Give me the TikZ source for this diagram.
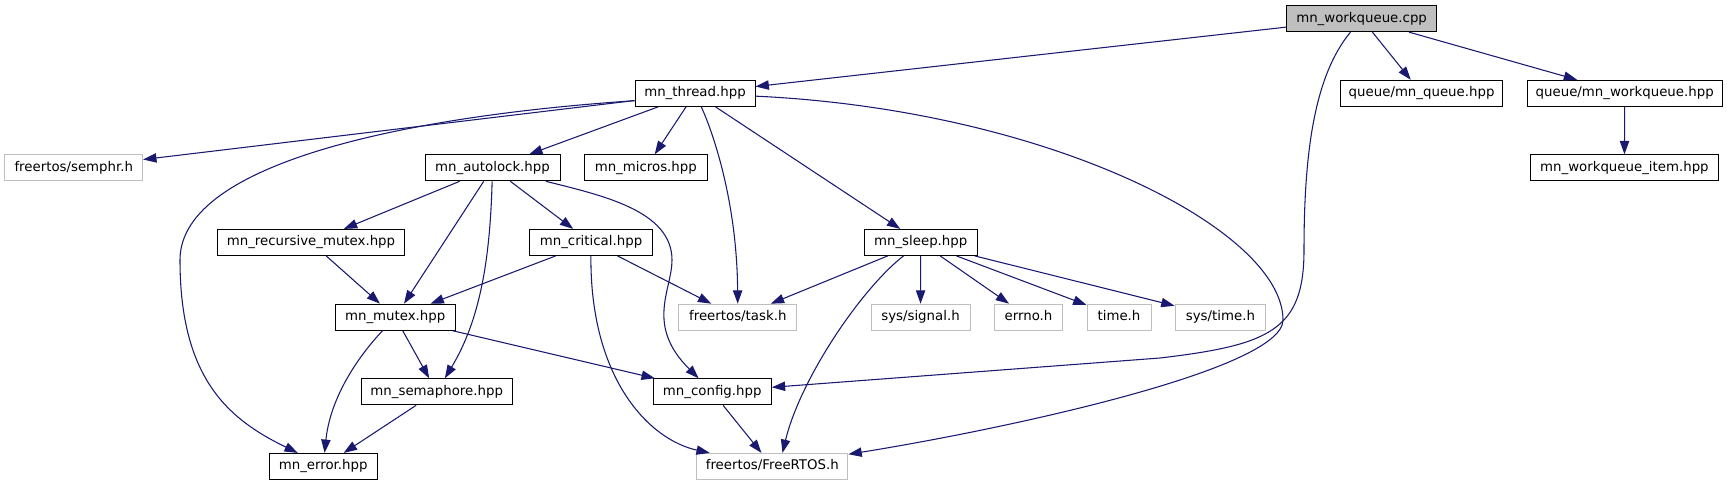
\documentclass[tikz,border=0pt]{standalone}
\usepackage{fontspec}
\setmainfont{DejaVu Sans}
\usepackage{tikz}
\usetikzlibrary{shapes,arrows.meta,positioning}
\definecolor{edgeblue}{HTML}{191970}
\definecolor{grey75}{HTML}{BFBFBF}

\begin{document}
\begin{tikzpicture}[x=0.75pt, y=-0.75pt,
        filebox/.style={rectangle, draw=black, fill=white, line width=0.75pt, inner sep=0pt, minimum height=19.5pt, text height=7.3pt, text depth=2.3pt, font=\fontsize{10}{12}\selectfont},
        header/.style={filebox, minimum width=#1*0.75pt},
        system/.style={filebox, draw=grey75, minimum width=#1*0.75pt},
        main/.style={filebox, fill=grey75, minimum width=#1*0.75pt},
        dep/.style={-{Triangle[length=10pt, width=7pt]}, draw=edgeblue, line width=0.8pt}]

        \useasboundingbox (0,0) rectangle (1727,485);

        % Files
        \node[main=150] (wqcpp) at (1361.6,18.7) {mn\_workqueue.cpp};
        \node[header=120] (thread) at (695,93.3) {mn\_thread.hpp};
        \node[header=162.4] (queue) at (1421.6,93.3) {queue/mn\_queue.hpp};
        \node[header=195.3] (wqhpp) at (1624.7,93.3) {queue/mn\_workqueue.hpp};
        \node[system=137.7] (semphr) at (73.8,167.8) {freertos/semphr.h};
        \node[header=135] (autolock) at (492.5,167.8) {mn\_autolock.hpp};
        \node[header=123] (micros) at (645.8,167.8) {mn\_micros.hpp};
        \node[header=187.3] (wqitem) at (1624.4,167.8) {mn\_workqueue\_item.hpp};
        \node[header=187.3] (recmutex) at (311,242.4) {mn\_recursive\_mutex.hpp};
        \node[header=123.3] (critical) at (591,242.4) {mn\_critical.hpp};
        \node[header=113.3] (sleep) at (920.7,242.4) {mn\_sleep.hpp};
        \node[header=120.3] (mutex) at (395.2,317.2) {mn\_mutex.hpp};
        \node[system=118.3] (task) at (737.8,317.2) {freertos/task.h};
        \node[system=99] (signal) at (920.5,317.2) {sys/signal.h};
        \node[system=68.3] (errno) at (1028.5,317.2) {errno.h};
        \node[system=64] (timeh) at (1119,317.2) {time.h};
        \node[system=90.7] (systime) at (1220.4,317.2) {sys/time.h};
        \node[header=151.3] (semaphore) at (436.7,391.8) {mn\_semaphore.hpp};
        \node[header=118.2] (config) at (712.2,391.8) {mn\_config.hpp};
        \node[header=107.7] (error) at (323.2,466.4) {mn\_error.hpp};
        \node[system=151.2] (freertos) at (772.3,466.4) {freertos/FreeRTOS.h};

        % Includes
        \draw[dep] (wqcpp) -- (thread);
        \draw[dep] (wqcpp) -- (queue);
        \draw[dep] (wqcpp) -- (wqhpp);
        \draw[dep] (wqcpp) .. controls (1315,75) and (1304,150) .. (1304,250) .. controls (1304,330) and (1270,345) .. (1160,358) -- (config);
        \draw[dep] (wqhpp) -- (wqitem);

        \draw[dep] (thread) -- (semphr);
        \draw[dep] (thread.187) .. controls (420,115) and (180,160) .. (180,260) .. controls (180,380) and (230,420) .. (error.152);
        \draw[dep] (thread) -- (autolock);
        \draw[dep] (thread) -- (micros);
        \draw[dep] (thread) .. controls (712,130) and (737,200) .. (task);
        \draw[dep] (thread) -- (sleep);
        \draw[dep] (thread) .. controls (1050,110) and (1283,230) .. (1283,320) .. controls (1283,370) and (1000,430) .. (freertos);

        \draw[dep] (autolock) -- (recmutex);
        \draw[dep] (autolock) -- (mutex);
        \draw[dep] (autolock) .. controls (490,260) and (480,320) .. (semaphore);
        \draw[dep] (autolock) -- (critical);
        \draw[dep] (autolock) .. controls (600,195) and (672,210) .. (672,260) .. controls (672,290) and (645,325) .. (config);

        \draw[dep] (recmutex) -- (mutex);
        \draw[dep] (critical) -- (mutex);
        \draw[dep] (critical) -- (task);
        \draw[dep] (critical) .. controls (590,380) and (650,440) .. (freertos);

        \draw[dep] (sleep) -- (task);
        \draw[dep] (sleep) .. controls (860,290) and (800,380) .. (freertos.53);
        \draw[dep] (sleep) -- (signal);
        \draw[dep] (sleep) -- (errno);
        \draw[dep] (sleep) -- (timeh);
        \draw[dep] (sleep) -- (systime);

        \draw[dep] (mutex) -- (semaphore);
        \draw[dep] (mutex) .. controls (355,360) and (330,400) .. (error);
        \draw[dep] (mutex) -- (config);
        \draw[dep] (semaphore) -- (error);
        \draw[dep] (config) -- (freertos);
    \end{tikzpicture}
\end{document}
